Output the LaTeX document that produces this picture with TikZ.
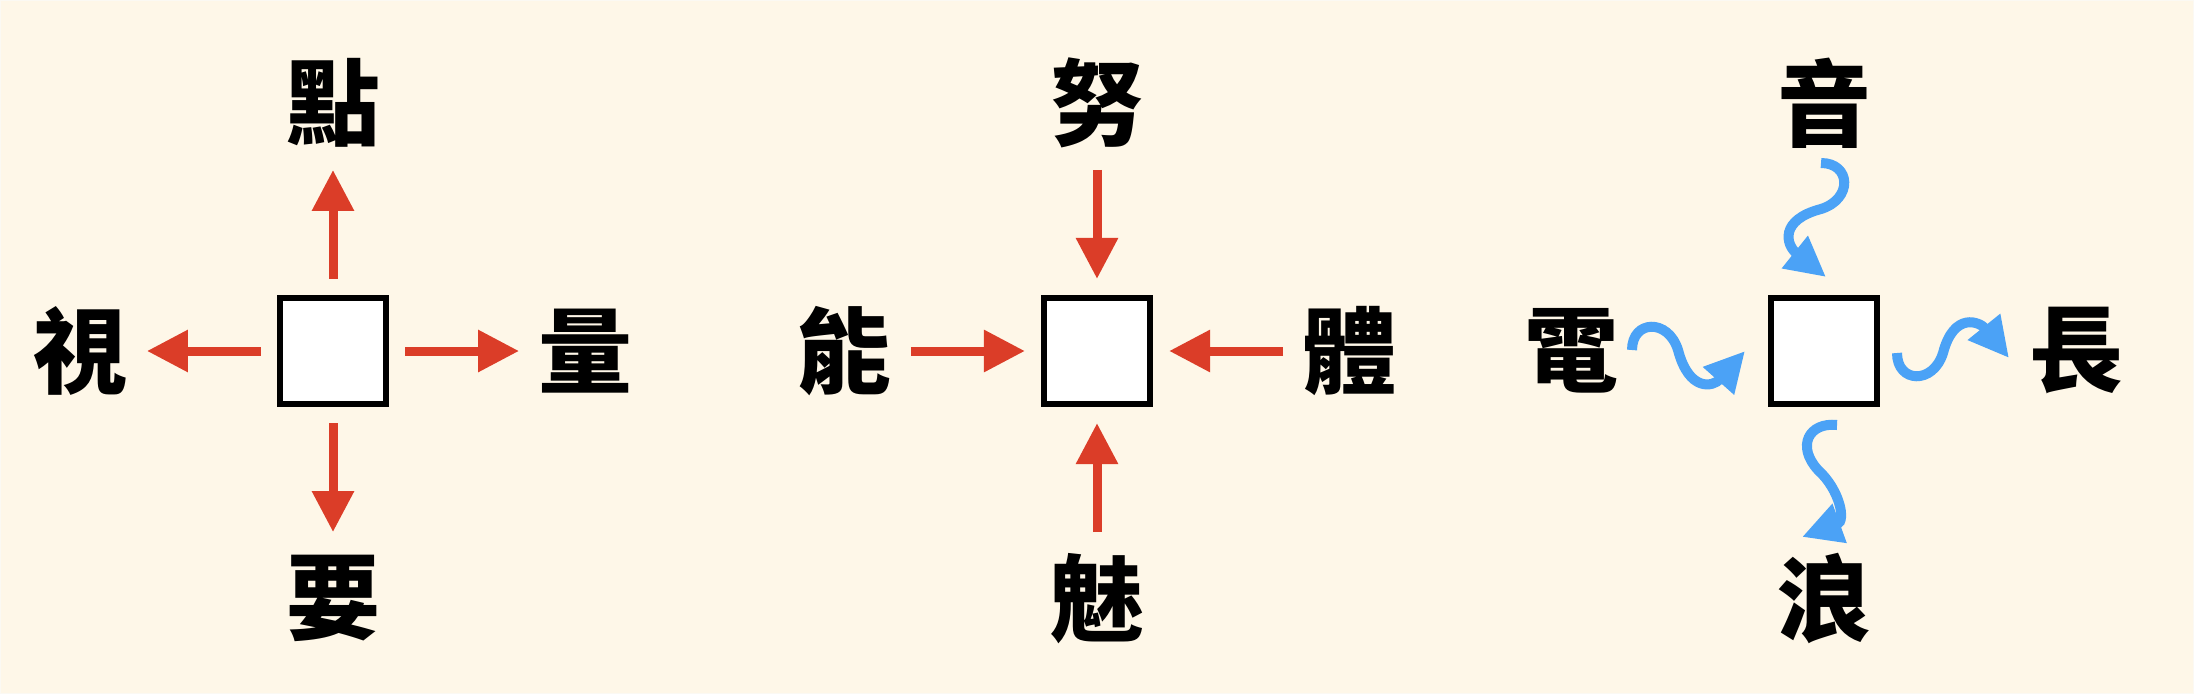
\documentclass[tikz,border=0pt]{standalone}
\usepackage{fontspec}
\newfontfamily\cjk{Noto Sans CJK TC}
\usetikzlibrary{positioning, arrows.meta}
\definecolor{paper}{HTML}{FEF7E8}
\definecolor{paperedge}{HTML}{FBF9F3}
\definecolor{pointred}{HTML}{DB3D28}
\definecolor{waveblue}{HTML}{4BA2F6}

\begin{document}
\begin{tikzpicture}[x=0.01cm, y=-0.01cm,
    node distance=1.41cm and 1.46cm,
    box/.style={draw, fill=white, line width=0.06cm, minimum size=1.06cm, inner sep=0pt},
    word/.style={minimum size=1cm, inner sep=0pt, font={\cjk\bfseries\fontsize{26.7pt}{30pt}\selectfont}},
    redarrow/.style={pointred, line width=0.09cm, -{Triangle[length=0.41cm, width=0.40cm]},
                     shorten <=0.16cm, shorten >=0.16cm},
    wave/.style={waveblue, line width=0.1cm, -{Triangle[length=0.40cm, width=0.39cm]}}]
    \useasboundingbox (0,0) rectangle (2194,694);
    \filldraw[fill=paper, draw=paperedge, line width=0.02cm] (0,0) rectangle (2194,694);

    % first square: arrows go out
    \node[box] (sqa) at (333,351) {};
    \node[word, above=of sqa] (dian) {點};
    \node[word, left=of sqa] (shi) {視};
    \node[word, right=of sqa] (liang) {量};
    \node[word, below=of sqa] (yao) {要};

    \draw[redarrow] (sqa) -- (dian);
    \draw[redarrow] (sqa) -- (shi);
    \draw[redarrow] (sqa) -- (liang);
    \draw[redarrow] (sqa) -- (yao);

    % second square: arrows come in
    \node[box] (sqb) at (1097,351) {};
    \node[word, above=of sqb] (nu) {努};
    \node[word, left=of sqb] (neng) {能};
    \node[word, right=of sqb] (ti) {體};
    \node[word, below=of sqb] (mei) {魅};

    \draw[redarrow] (nu) -- (sqb);
    \draw[redarrow] (neng) -- (sqb);
    \draw[redarrow] (ti) -- (sqb);
    \draw[redarrow] (mei) -- (sqb);

    % third square: wavy arrows
    \node[box] (sqc) at (1824,351) {};
    \node[word, above=of sqc] (yin) {音};
    \node[word, left=of sqc] (dien) {電};
    \node[word, right=of sqc] (chang) {長};
    \node[word, below=of sqc] (lang) {浪};

    \coordinate (yinw) at (1821,163);
    \coordinate (yinsq) at (1826,277);
    \coordinate (dienw) at (1632,350);
    \coordinate (diensq) at (1745,351);
    \coordinate (sqchang) at (1897,353);
    \coordinate (changw) at (2009,358);
    \coordinate (sqlang) at (1837,425);
    \coordinate (langw) at (1802,537);

    \draw[wave] (yinw) .. controls (1851,163) and (1853,199) .. (1821,209)
                       .. controls (1779,220) and (1786,245) .. (yinsq);
    \draw[wave] (dienw) .. controls (1632,320) and (1668,318) .. (1678,350)
                        .. controls (1689,392) and (1713,387) .. (diensq);
    \draw[wave] (sqchang) .. controls (1897,383) and (1933,385) .. (1943,353)
                          .. controls (1954,311) and (1980,322) .. (changw);
    \draw[wave] (sqlang) .. controls (1809,422) and (1796,446) .. (1818,470)
                         .. controls (1840,490) and (1846,521) .. (langw);
\end{tikzpicture}
\end{document}
